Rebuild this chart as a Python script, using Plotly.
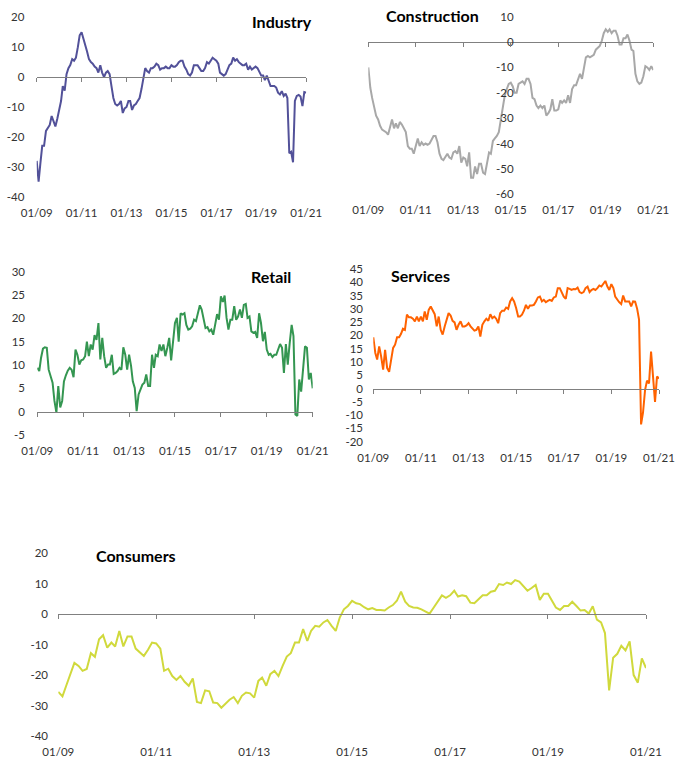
import pandas as pd
import plotly.graph_objects as go

W, H = 677, 768

months = pd.date_range("2009-01-01", periods=145, freq="MS")

tick_vals = ["2009-01-01", "2011-01-01", "2013-01-01", "2015-01-01",
             "2017-01-01", "2019-01-01", "2021-01-01"]
tick_text = ["01/09", "01/11", "01/13", "01/15", "01/17", "01/19", "01/21"]

industry = [
    -28, -35, -29, -23, -23, -18, -17, -16, -13, -15, -16.5, -14,
    -11, -8, -3, -4.5, 1, 3, 4, 6, 5.5, 6.5, 10, 14,
    15, 13, 10.5, 8.5, 6, 5, 4.5, 3.5, 3, 1.5, 4, 1.5,
    0, 1.5, 2, 1, -3, -7, -9, -9.5, -9, -8, -12, -10.5,
    -10, -8, -8, -11, -9.5, -9, -8, -7, -4, -0.5, 3, 2,
    1.5, 3, 3, 3.5, 4.5, 4, 2.5, 3, 3, 3.5, 3, 3,
    4, 3.5, 3.5, 4, 5, 5.5, 5.5, 3.5, 2.5, 1, 0.5, 1.5,
    4, 4, 4, 3, 2, 2, 3, 5, 4.5, 5.5, 6.5, 6,
    5.5, 4.5, 1.5, 1, 0.5, 1, 2.5, 4, 4.5, 6.5, 5.5, 6,
    5, 4.5, 4, 4, 4.5, 2.5, 3.5, 2.5, 3, 3.5, 3, 1.5,
    0.5, 0.5, -1, 0.5, -1.5, -3, -3, -3, -3.5, -5.2, -5.8, -4.7,
    -6.3, -5.5, -7, -25.5, -25, -28.5, -8, -6.3, -6, -6.5, -9.7, -5,
    -5.2,
]

construction = [
    -10, -18, -22, -26, -29, -30.5, -33, -34.5, -35, -35.5, -36.5, -34,
    -30.5, -34, -32, -34, -31.5, -32.5, -34, -35.5, -41, -42, -42, -44,
    -41, -38, -41, -39.5, -40.5, -40, -40.5, -40, -38.5, -37, -37, -39.5,
    -44, -46, -46.5, -45, -44, -45.5, -46, -43.5, -43, -44, -41, -47.5,
    -45.5, -46, -49, -43.5, -53.5, -53.5, -49, -52, -48, -48, -51.5, -52,
    -47.5, -43.5, -44, -39, -38, -37, -35.5, -30.5, -26.5, -21, -18.5, -16.5,
    -16, -17.5, -20, -20, -16.5, -16, -15.5, -16.5, -14.5, -14.5, -16.5, -22,
    -22.5, -25, -26, -25, -26, -25, -29, -28, -26.5, -22.5, -27, -27,
    -26.5, -23, -24, -23, -24, -21, -24, -18.5, -17, -17, -14.5, -12.5,
    -14.5, -9.5, -6, -5.5, -6, -5.5, -5, -3, -2, -1.5, 0.5, 3.5,
    5, 4, 5, 3.5, 4.5, 4.5, 2.5, -1, -1, 1.5, 1.5, 3,
    0.5, -3, -3.5, -12.5, -15.5, -16.5, -16, -13.5, -9.5, -10, -11, -9.5,
    -11,
]

retail = [
    9.4, 8.7, 11.5, 13.5, 13.8, 13.7, 9, 7.3, 6.2, 2.3, -0.2, 5.5,
    0.9, 2.3, 6.5, 7.8, 8.8, 9.4, 9, 7.4, 13.3, 12.2, 10.1, 11,
    11.2, 11.9, 15, 11.9, 14.4, 13.3, 16.4, 15.4, 19, 11.2, 15.8, 11.9,
    9.4, 10.1, 10.1, 12.2, 8.1, 8.3, 8.7, 9.4, 9, 13.8, 12.2, 9,
    12.2, 9.8, 6.5, 5.1, 0.1, 3.7, 4.8, 5.8, 6.2, 8, 5.5, 5.5,
    12.2, 9.4, 12.2, 11.9, 14.4, 13, 14.4, 11.9, 13.7, 15.8, 11, 15.8,
    19, 20.1, 15, 21.1, 20.8, 21.1, 18.6, 17.6, 17.8, 18.3, 19.7, 19.4,
    21.1, 22.8, 21.9, 19.4, 17.9, 18.1, 17.2, 17.6, 16.5, 18.6, 20.9, 19.7,
    24.7, 23.5, 24.9, 20.1, 17.6, 19.7, 19.7, 22.6, 19.7, 20.4, 21.9, 20.1,
    22.9, 23.1, 20.1, 20.4, 17.2, 16.9, 17.1, 15.8, 21.1, 19, 15.1, 17.1,
    13.3, 12.2, 12.4, 11.7, 12.2, 12.2, 13.3, 14.5, 13.7, 8.3, 14.5, 10.1,
    14.7, 18.6, 16.2, -0.6, -0.9, 6.9, 4.3, 10.1, 14, 13.7, 6.9, 8.3,
    5,
]

services = [
    19.3, 13.4, 10.9, 15.9, 12.1, 7.1, 14.6, 7.8, 6.3, 10.3, 15.3, 16.5,
    19.3, 19.3, 20.5, 22.5, 22.1, 27.8, 26.8, 26.8, 26.3, 25.3, 27.1, 25.3,
    27.1, 25.3, 29, 25.9, 29.6, 30.9, 29.3, 28, 23.4, 27.1, 22.1, 20.3,
    23.4, 25.9, 28.4, 27.5, 25.5, 24.9, 22.1, 24, 25.3, 23.4, 23.4, 23.8,
    24.6, 23.4, 22.5, 21.8, 22.1, 23.4, 19.6, 24, 25.3, 26.3, 25.5, 28,
    26.5, 27.1, 26.3, 24.6, 28.4, 29.3, 29.3, 30.5, 30, 32.8, 34, 32.8,
    30.3, 27.1, 27.1, 27.8, 29.3, 31.5, 30, 31.3, 31.3, 31.5, 32.8, 34.3,
    34.6, 32.8, 33.4, 32.5, 33, 33.4, 33, 34.3, 34.6, 37.8, 37.8, 36.3,
    34.6, 33.8, 37.8, 37.5, 37.1, 37.5, 37.4, 38, 36.3, 35.9, 36.3, 37.8,
    38.4, 36.3, 37.1, 37.5, 37.1, 37.8, 38.8, 38.4, 39.3, 40.5, 38.4, 37.1,
    39.3, 37.8, 34.6, 33.4, 32.5, 31.8, 35, 32.8, 32.8, 32.8, 30.9, 32.8,
    32.7, 30, 26, -13.5, -9, -0.6, 3, 1.9, 13.9, 5, -5, 4.5,
    3.8,
]

consumers = [
    -25.5, -27, -23.5, -20, -16, -17, -18.6, -18, -12.8, -14, -8.2, -6.9,
    -11, -9.3, -10.6, -5.5, -10.6, -7.3, -7.3, -11.3, -12.6, -13.7, -11.7, -9.3,
    -9.6, -11.3, -18.6, -17.9, -20.3, -21.6, -20.3, -22.2, -23.5, -21.1, -28.8, -29.2,
    -25, -25.3, -29, -29.2, -30.7, -29.2, -28.1, -27.2, -29.2, -26.8, -25.7, -26,
    -27.4, -21.9, -20.8, -23.5, -19.7, -18.6, -20.3, -17, -13.9, -12.8, -9.3, -9.3,
    -4.9, -8.8, -5.5, -3.8, -4.1, -2.7, -1.9, -3.8, -5.5, -1.1, 1.6, 2.7,
    4.4, 3.6, 3.3, 2.3, 1.6, 2, 1.4, 1.4, 1.2, 2.2, 3, 4.4,
    7.4, 4.1, 2.7, 2.2, 2.1, 1.6, 0.8, 0.2, 2.2, 4.1, 6.2, 5.4,
    6.2, 7.7, 5.8, 6.2, 5.9, 3.8, 3.6, 4.9, 6.2, 6.2, 7.4, 7.7,
    9.9, 9.6, 10.4, 9.9, 11.2, 10.7, 9.1, 7.7, 8.6, 9.6, 4.7, 6.7,
    6.7, 4.1, 2.2, 1.4, 2.7, 2.7, 4.1, 2.7, 1.2, 1.4, 0.2, 2.6,
    -1.8, -2.7, -6.2, -25, -14.3, -13, -10.4, -11.9, -8.9, -20, -22.5, -14.5,
    -17.7,
]

titles = ["Industry", "Construction", "Retail", "Services", "Consumers"]

# panel layout in pixels: (x_left, x_right, y_top, y_bottom), y range, y tick step
panels = [
    dict(name=titles[0], data=industry, color="#525199",
         px=(36.7, 306.2, 17.3, 196.7), yr=(-40, 20), dt=10,
         title_xy=(281.5, 21.5), ylab="left", lab_gap=9),
    dict(name=titles[1], data=construction, color="#A8A8A8",
         px=(368.3, 653.3, 16.7, 194.3), yr=(-60, 10), dt=10,
         title_xy=(432.5, 15.5), ylab=518.0, lab_gap=2),
    dict(name=titles[2], data=retail, color="#349651",
         px=(37.3, 312.7, 271.7, 435.0), yr=(-5, 30), dt=5,
         title_xy=(271.0, 277.0), ylab="left", lab_gap=9),
    dict(name=titles[3], data=services, color="#FF6200",
         px=(373.3, 659.0, 269.0, 441.7), yr=(-20, 45), dt=5,
         title_xy=(420.5, 275.0), ylab="left", lab_gap=7),
    dict(name=titles[4], data=consumers, color="#D0D93C",
         px=(58.3, 646.0, 553.3, 736.0), yr=(-40, 20), dt=10,
         title_xy=(136.0, 555.0), ylab="left", lab_gap=7),
]

TICK_FONT = dict(family="Lato, 'Open Sans', sans-serif", size=11.5, color="#333333")
TITLE_FONT = dict(family="Lato, 'Open Sans', sans-serif", size=16, color="#000000")
AXIS_GREY = "#808080"

fig = go.Figure()
layout = dict(
    width=W, height=H, margin=dict(l=0, r=0, t=0, b=0, pad=0, autoexpand=False),
    paper_bgcolor="white", plot_bgcolor="white", showlegend=False,
    annotations=[],
)

n = len(panels)
xr = ["2009-01-01", "2021-01-01"]
for k, p in enumerate(panels):
    i = k + 1
    xl, xrp, yt, yb = p["px"]
    xdom = [xl / W, xrp / W]
    ydom = [1 - yb / H, 1 - yt / H]
    ymin, ymax = p["yr"]
    xa = "x" if i == 1 else f"x{i}"
    ya = "y" if i == 1 else f"y{i}"
    xkey = "xaxis" if i == 1 else f"xaxis{i}"
    ykey = "yaxis" if i == 1 else f"yaxis{i}"
    zi = i + n
    zkey = f"xaxis{zi}"

    fig.add_trace(go.Scatter(x=months, y=p["data"], mode="lines", name=p["name"],
                             line=dict(color=p["color"], width=2),
                             xaxis=xa, yaxis=ya, hoverinfo="x+y"))
    # helper trace so the zero-line axis is drawn
    fig.add_trace(go.Scatter(x=[months[0]], y=[None], mode="lines",
                             xaxis=f"x{zi}", yaxis=ya, hoverinfo="skip",
                             showlegend=False))

    layout[xkey] = dict(domain=xdom, range=xr, anchor=ya, type="date",
                        tickmode="array", tickvals=tick_vals, ticktext=tick_text,
                        showgrid=False, zeroline=False, showline=False,
                        ticks="outside", ticklen=5, tickcolor="rgba(0,0,0,0)",
                        tickfont=TICK_FONT, fixedrange=True, automargin=False)
    zero_pos = ydom[0] + (0 - ymin) / (ymax - ymin) * (ydom[1] - ydom[0])
    layout[zkey] = dict(overlaying=xa, anchor="free", position=zero_pos,
                        range=xr, type="date", tickmode="array",
                        tickvals=tick_vals, showticklabels=False,
                        showgrid=False, zeroline=False, showline=True,
                        linecolor=AXIS_GREY, linewidth=1,
                        ticks="outside", ticklen=4, tickcolor=AXIS_GREY,
                        tickwidth=1, fixedrange=True, automargin=False)
    yvals = list(range(ymin, ymax + 1, p["dt"]))
    ycfg = dict(domain=ydom, range=[ymin, ymax], tickmode="array",
                tickvals=yvals, ticktext=[str(v) for v in yvals],
                showgrid=False, zeroline=False, showline=False,
                ticks="outside", ticklen=p["lab_gap"], tickcolor="rgba(0,0,0,0)",
                tickfont=TICK_FONT, fixedrange=True, automargin=False)
    if p["ylab"] == "left":
        ycfg["anchor"] = xa
    else:
        ycfg["anchor"] = "free"
        ycfg["position"] = p["ylab"] / W
    layout[ykey] = ycfg

    tx, ty = p["title_xy"]
    layout["annotations"].append(dict(
        text=f"<b>{p['name']}</b>", x=tx / W, y=1 - ty / H, xref="paper", yref="paper",
        xanchor="center", yanchor="middle", showarrow=False, font=TITLE_FONT))

fig.update_layout(**layout)
fig.write_html(
    "out.html",
    config={"displayModeBar": False},
    post_script="document.body.style.margin='0';document.body.style.overflow='hidden';",
)
